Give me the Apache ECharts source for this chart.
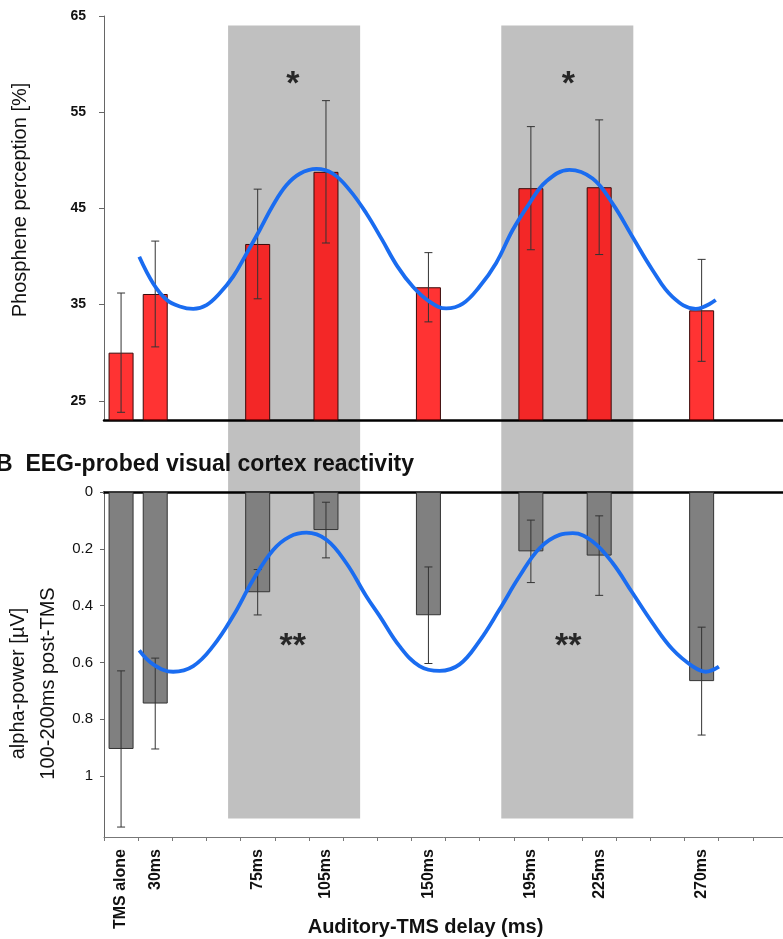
<!DOCTYPE html>
<html>
<head>
<meta charset="utf-8">
<script src="https://cdn.jsdelivr.net/npm/echarts@6/dist/echarts.min.js"></script>
<style>
html,body{margin:0;padding:0;background:#fff;}
#chart{width:783px;height:939px;}
</style>
</head>
<body>
<div id="chart"></div>
<script>
// ---- Data ----
// category slots of the delay axis (15 ms each)
const slots = ['TMS alone','30ms','45ms','60ms','75ms','90ms','105ms','120ms','135ms','150ms',
  '165ms','180ms','195ms','210ms','225ms','240ms','255ms','270ms','285ms','300ms'];
const delays = ['TMS alone','30ms','75ms','105ms','150ms','195ms','225ms','270ms'];

// A: phosphene perception [%]
const phospheneMean = [30.0, 36.1, 41.3, 48.8, 36.8, 47.1, 47.2, 34.4];
const phospheneErr  = [6.2, 5.5, 5.7, 7.4, 3.6, 6.4, 7.0, 5.3];

// B: alpha power [µV], 100-200 ms post-TMS
const alphaMean = [0.905, 0.745, 0.353, 0.134, 0.434, 0.209, 0.224, 0.666];
const alphaErr  = [0.275, 0.16, 0.08, 0.098, 0.17, 0.11, 0.14, 0.19];

// fitted oscillation, x in ms
const phospheneFitMs  = [23.0,29.1,35.0,40.8,46.7,52.5,58.4,64.2,70.1,75.9,81.8,87.6,93.5,100.8,108.1,115.4,122.7,129.5,136.3,143.2,150.5,157.8,165.1,172.4,179.7,187.0,194.3,201.7,211.9,222.1,230.9,239.6,248.4,257.2,267.4,276.2];
const phospheneFitVal = [39.97,37.2,35.5,34.8,34.55,34.95,36.2,37.9,40.3,42.75,45.35,47.4,48.6,49.1,48.6,46.9,44.5,41.8,39.0,36.85,35.3,34.6,35.1,36.85,39.3,42.75,45.5,47.8,49.0,48.1,45.5,42.05,38.6,35.8,34.55,35.47];

const alphaFitMs  = [23.0,29.1,37.9,46.7,55.4,64.2,73.0,81.8,89.1,96.4,105.2,113.9,122.7,128.6,137.3,146.1,154.9,163.7,172.4,181.2,190.0,198.8,207.6,213.4,222.1,230.9,239.6,248.4,257.2,265.9,271.8,277.6];
const alphaFitVal = [0.558,0.607,0.633,0.613,0.543,0.437,0.309,0.204,0.157,0.143,0.168,0.25,0.367,0.437,0.543,0.613,0.63,0.607,0.525,0.414,0.297,0.198,0.151,0.145,0.174,0.25,0.355,0.461,0.554,0.613,0.633,0.615];

// shaded windows (ms) and significance marks
const shadeFrom = [62, 182];
const shadeTo   = [120, 240];
const starMs = [90, 211];
const topStarText = '*';
const bottomStarText = '**';
const topStarVal = 58.5;
const bottomStarVal = 0.52;

// tick labels
const phospheneTicks = [25, 35, 45, 55, 65];
const alphaTicks = [0, 0.2, 0.4, 0.6, 0.8, 1];

// ---- Chart ----
const FONT = "'Liberation Sans', Arial, Helvetica, sans-serif";
const chart = echarts.init(document.getElementById('chart'), null, {renderer: 'canvas'});

function errRender(params, api) {
  const x = api.value(0);
  const lo = api.coord([x, api.value(1)]);
  const hi = api.coord([x, api.value(2)]);
  const cap = 4;
  const st = {stroke: '#333', lineWidth: 1};
  return {type: 'group', children: [
    {type: 'line', shape: {x1: lo[0], y1: lo[1], x2: hi[0], y2: hi[1]}, style: st},
    {type: 'line', shape: {x1: lo[0]-cap, y1: lo[1], x2: lo[0]+cap, y2: lo[1]}, style: st},
    {type: 'line', shape: {x1: hi[0]-cap, y1: hi[1], x2: hi[0]+cap, y2: hi[1]}, style: st}
  ]};
}

const labelled = new Set(delays);
const grids = [
  {left: 104, right: -4, top: 16, height: 404, outerBoundsMode: 'none', containLabel: false},
  {left: 104, right: -4, top: 492, height: 345, outerBoundsMode: 'none', containLabel: false}
];

const option = {
  backgroundColor: '#fff',
  animation: false,
  textStyle: {fontFamily: FONT},
  grid: grids,
  xAxis: [
    {type: 'category', gridIndex: 0, data: slots, boundaryGap: true,
     axisLine: {lineStyle: {color: '#000', width: 2.5}}, axisTick: {show: false}, axisLabel: {show: false}},
    {type: 'value', gridIndex: 0, min: 7.5, max: 307.5, show: false},
    {type: 'category', gridIndex: 1, data: slots, boundaryGap: true, position: 'bottom',
     axisLine: {onZero: false, lineStyle: {color: '#777', width: 1}},
     axisTick: {show: true, length: 4, lineStyle: {color: '#777'}, alignWithLabel: false},
     axisLabel: {interval: 0, rotate: 90, margin: 12, fontSize: 16, fontWeight: 'bold', color: '#111', fontFamily: FONT,
       formatter: v => labelled.has(v) ? v : ''},
     name: 'Auditory-TMS delay (ms)', nameLocation: 'middle', nameGap: 80, nameMoveOverlap: false,
     nameTextStyle: {fontSize: 20, fontWeight: 'bold', color: '#111', fontFamily: FONT, padding: [0, 40, 0, 0]}},
    {type: 'category', gridIndex: 1, data: slots, boundaryGap: true, position: 'top',
     axisLine: {onZero: false, lineStyle: {color: '#000', width: 2.5}}, axisTick: {show: false}, axisLabel: {show: false}},
    {type: 'value', gridIndex: 1, min: 7.5, max: 307.5, show: false}
  ],
  yAxis: [
    {type: 'value', gridIndex: 0, min: 23, max: 65, splitLine: {show: false},
     axisLine: {show: true, lineStyle: {color: '#666'}},
     axisTick: {show: true, length: 5, customValues: phospheneTicks, lineStyle: {color: '#666'}},
     axisLabel: {customValues: phospheneTicks, margin: 18, fontSize: 14, fontWeight: 'bold', color: '#111', fontFamily: FONT},
     name: 'Phosphene perception [%]', nameLocation: 'middle', nameGap: 74, nameRotate: 90, nameMoveOverlap: false,
     nameTextStyle: {fontSize: 20, color: '#111', fontFamily: FONT, padding: [0, 0, 0, 36]}},
    {type: 'value', gridIndex: 1, min: 0, max: 1.215, inverse: true, splitLine: {show: false},
     axisLine: {show: true, lineStyle: {color: '#666'}},
     axisTick: {show: true, length: 4, customValues: alphaTicks, lineStyle: {color: '#666'}},
     axisLabel: {customValues: alphaTicks, margin: 11, fontSize: 15, color: '#111', fontFamily: FONT},
     name: 'alpha-power [µV]\n100-200ms post-TMS', nameLocation: 'middle', nameGap: 41, nameRotate: 90, nameMoveOverlap: false,
     nameTextStyle: {fontSize: 20, lineHeight: 30, color: '#111', fontFamily: FONT, padding: [0, 38, 0, 0]}}
  ],
  series: [
    {type: 'bar', xAxisIndex: 0, yAxisIndex: 0, barWidth: 25, z: 2,
     itemStyle: {color: 'rgba(255,0,0,0.8)', borderColor: '#3a0a0a', borderWidth: 1},
     data: delays.map((d, i) => [d, phospheneMean[i]])},
    {type: 'custom', xAxisIndex: 0, yAxisIndex: 0, z: 3, renderItem: errRender,
     data: delays.map((d, i) => [d, phospheneMean[i] - phospheneErr[i], phospheneMean[i] + phospheneErr[i]])},
    {type: 'line', xAxisIndex: 1, yAxisIndex: 0, z: 4, smooth: 0.4, showSymbol: false, symbol: 'none',
     lineStyle: {color: '#1a6cf0', width: 3.8},
     data: phospheneFitMs.map((x, i) => [x, phospheneFitVal[i]])},
    {type: 'scatter', xAxisIndex: 1, yAxisIndex: 0, z: 5, symbolSize: 1, itemStyle: {color: 'rgba(0,0,0,0)'},
     label: {show: true, position: 'inside', formatter: topStarText, fontSize: 34, fontWeight: 'bold', color: '#000', fontFamily: FONT, offset: [1, 6]},
     data: starMs.map(x => [x, topStarVal])},

    {type: 'bar', xAxisIndex: 2, yAxisIndex: 1, barWidth: 25, z: 2,
     itemStyle: {color: '#808080', borderColor: '#333', borderWidth: 1},
     data: delays.map((d, i) => [d, alphaMean[i]])},
    {type: 'custom', xAxisIndex: 2, yAxisIndex: 1, z: 3, renderItem: errRender,
     data: delays.map((d, i) => [d, alphaMean[i] - alphaErr[i], alphaMean[i] + alphaErr[i]])},
    {type: 'line', xAxisIndex: 4, yAxisIndex: 1, z: 4, smooth: 0.4, showSymbol: false, symbol: 'none',
     lineStyle: {color: '#1a6cf0', width: 3.8},
     data: alphaFitMs.map((x, i) => [x, alphaFitVal[i]])},
    {type: 'scatter', xAxisIndex: 4, yAxisIndex: 1, z: 5, symbolSize: 1, itemStyle: {color: 'rgba(0,0,0,0)'},
     label: {show: true, position: 'inside', formatter: bottomStarText, fontSize: 34, fontWeight: 'bold', color: '#000', fontFamily: FONT, offset: [1, 7]},
     data: starMs.map(x => [x, bottomStarVal])}
  ]
};
chart.setOption(option);

// shaded windows spanning both panels + panel B title
const shadeTopVal = 64, shadeBottomVal = 1.15;
const yTop = chart.convertToPixel({yAxisIndex: 0}, shadeTopVal);
const yBot = chart.convertToPixel({yAxisIndex: 1}, shadeBottomVal);
const graphics = shadeFrom.map((f, i) => {
  const x1 = chart.convertToPixel({xAxisIndex: 1}, f);
  const x2 = chart.convertToPixel({xAxisIndex: 1}, shadeTo[i]);
  return {type: 'rect', z: -10, silent: true, shape: {x: x1, y: yTop, width: x2 - x1, height: yBot - yTop},
          style: {fill: '#c0c0c0'}};
});
graphics.push({type: 'text', left: -4, top: 453, z: 10,
  style: {text: 'B  EEG-probed visual cortex reactivity', fontSize: 23, fontWeight: 'bold', fill: '#111', fontFamily: FONT}});
chart.setOption({graphic: graphics});
</script>
</body>
</html>
